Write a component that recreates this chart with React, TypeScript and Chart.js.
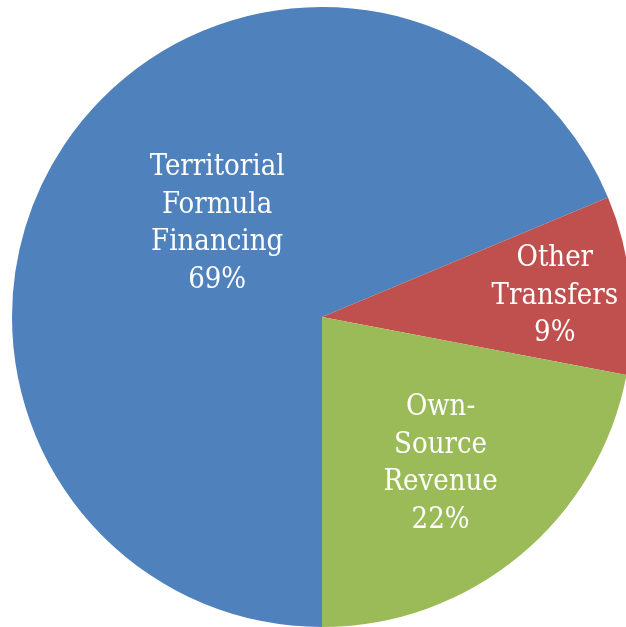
import React, { useEffect, useRef } from "react";
import { Chart, registerables } from "chart.js";

Chart.register(...registerables);

const categories = ["Territorial Formula Financing", "Other Transfers", "Own-Source Revenue"];
const labelLines = [
  ["Territorial", "Formula", "Financing"],
  ["Other", "Transfers"],
  ["Own-", "Source", "Revenue"],
];
const values = [68.7, 9.3, 22.0];
const colors = ["#4F81BD", "#C0504D", "#9BBB59"];

// label placement: fraction of radius and angular offset (degrees) from slice mid-angle
const labelRadiusFrac = [0.46, 0.755, 0.6];
const labelAngleOffset = [9, 0, 0];

const labelPlugin = {
  id: "sliceLabels",
  afterDatasetsDraw(chart: any) {
    const ctx = chart.ctx;
    const meta = chart.getDatasetMeta(0);
    const total = values.reduce((a, b) => a + b, 0);
    ctx.save();
    ctx.fillStyle = "#FFFFFF";
    ctx.font = "29px 'DejaVu Serif Condensed'";
    ctx.textAlign = "center";
    ctx.textBaseline = "alphabetic";
    const pitch = 37.5;
    const capHalf = 11;
    meta.data.forEach((arc: any, i: number) => {
      const p = arc.getProps(["x", "y", "startAngle", "endAngle", "outerRadius"], true);
      const mid = (p.startAngle + p.endAngle) / 2 + (labelAngleOffset[i] * Math.PI) / 180;
      const r = p.outerRadius * labelRadiusFrac[i];
      const cx = p.x + Math.cos(mid) * r;
      const cy = p.y + Math.sin(mid) * r;
      const pct = Math.round((values[i] / total) * 100) + "%";
      const lines = [...labelLines[i], pct];
      const n = lines.length;
      lines.forEach((t, k) => {
        const y = cy + (k - (n - 1) / 2) * pitch + capHalf;
        ctx.fillText(t, cx, y);
      });
    });
    ctx.restore();
  },
};

export default function App() {
  const ref = useRef<HTMLCanvasElement | null>(null);
  useEffect(() => {
    document.body.style.margin = "0";
    document.body.style.overflow = "hidden";
    if (!ref.current) return;
    const chart = new Chart(ref.current, {
      type: "pie",
      data: {
        labels: categories,
        datasets: [
          {
            data: values,
            backgroundColor: colors,
            borderWidth: 0,
          },
        ],
      },
      options: {
        animation: false,
        responsive: false,
        devicePixelRatio: 1,
        rotation: 180,
        layout: { padding: { left: 12, top: 7, right: 12, bottom: 13 } },
        plugins: {
          legend: { display: false },
          tooltip: { enabled: false },
        },
      },
      plugins: [labelPlugin],
    });
    return () => chart.destroy();
  }, []);
  return (
    <div
      style={{
        position: "fixed",
        left: 0,
        top: 0,
        width: 626,
        height: 627,
        overflow: "hidden",
        background: "#FFFFFF",
      }}
    >
      <canvas ref={ref} width={644} height={640} style={{ width: 644, height: 640, display: "block" }} />
    </div>
  );
}
